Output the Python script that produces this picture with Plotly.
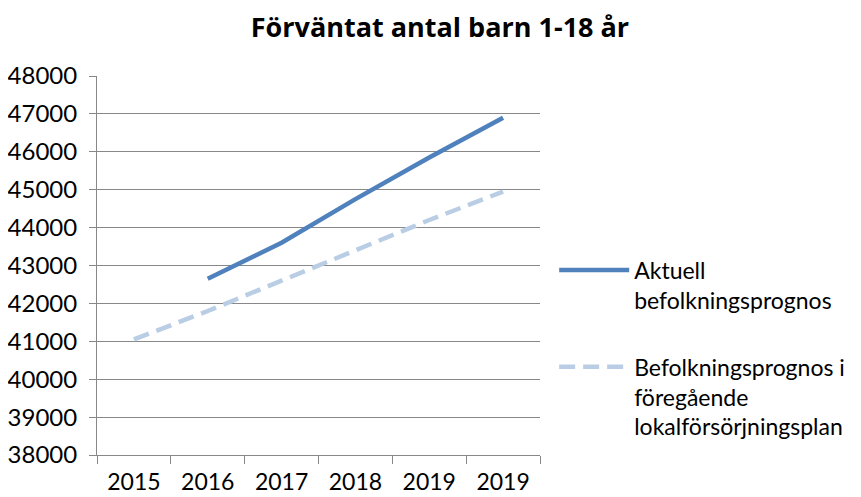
import plotly.graph_objects as go

categories = ["2015", "2016", "2017", "2018", "2019", "2019"]
aktuell = [None, 42650, 43600, 44750, 45850, 46900]
foregaende = [41050, 41800, 42600, 43400, 44200, 44950]
y_ticks = [38000, 39000, 40000, 41000, 42000, 43000, 44000, 45000, 46000, 47000, 48000]

xpos = list(range(len(categories)))
FONT = "Lato"
GRID = "#888888"

fig = go.Figure()
fig.add_trace(go.Scatter(
    x=xpos, y=aktuell, mode="lines", name="Aktuell<br>befolkningsprognos",
    line=dict(color="#4F81BD", width=4.5), legendgroup="a"))
fig.add_trace(go.Scatter(
    x=xpos, y=foregaende, mode="lines",
    name="Befolkningsprognos i<br>föregående<br>lokalförsörjningsplan",
    line=dict(color="#B9CDE5", width=4.5, dash="16px,8px"), legendgroup="b"))

# the page body adds an 8px offset, so the figure is 8px smaller than the window
fig.update_layout(
    width=853, height=489,
    margin=dict(l=89, r=321, t=68, b=42, autoexpand=False),
    paper_bgcolor="white", plot_bgcolor="white",
    font=dict(family=FONT, color="black"),
    title=dict(text="<b>Förväntat antal barn 1-18 år</b>", x=0.5064, xanchor="center",
               y=0.961, yanchor="middle", font=dict(size=27, family="Open Sans")),
    showlegend=True,
    legend=dict(x=1.032, xanchor="left", y=0.545, yanchor="top",
                font=dict(size=23, family=FONT), valign="top",
                tracegroupgap=34, itemwidth=70, bgcolor="rgba(0,0,0,0)"),
)
fig.update_xaxes(
    range=[-0.5, len(categories) - 0.5], tickvals=xpos, ticktext=categories,
    ticks="", showgrid=False, showline=True, linecolor=GRID, linewidth=1,
    tickfont=dict(size=23), ticklabelstandoff=6, zeroline=False, automargin=False,
    minor=dict(tickvals=[i - 0.5 for i in range(len(categories) + 1)],
               ticks="outside", ticklen=8, tickcolor=GRID, showgrid=False),
)
fig.update_yaxes(
    range=[38000, 48000], tickvals=y_ticks, ticktext=[str(v) for v in y_ticks],
    showgrid=True, gridcolor=GRID, gridwidth=1, showline=True, linecolor=GRID,
    ticks="outside", ticklen=7, tickcolor=GRID, tickfont=dict(size=24),
    ticklabelstandoff=7, zeroline=False, automargin=False,
)
fig.write_html("out.html")
